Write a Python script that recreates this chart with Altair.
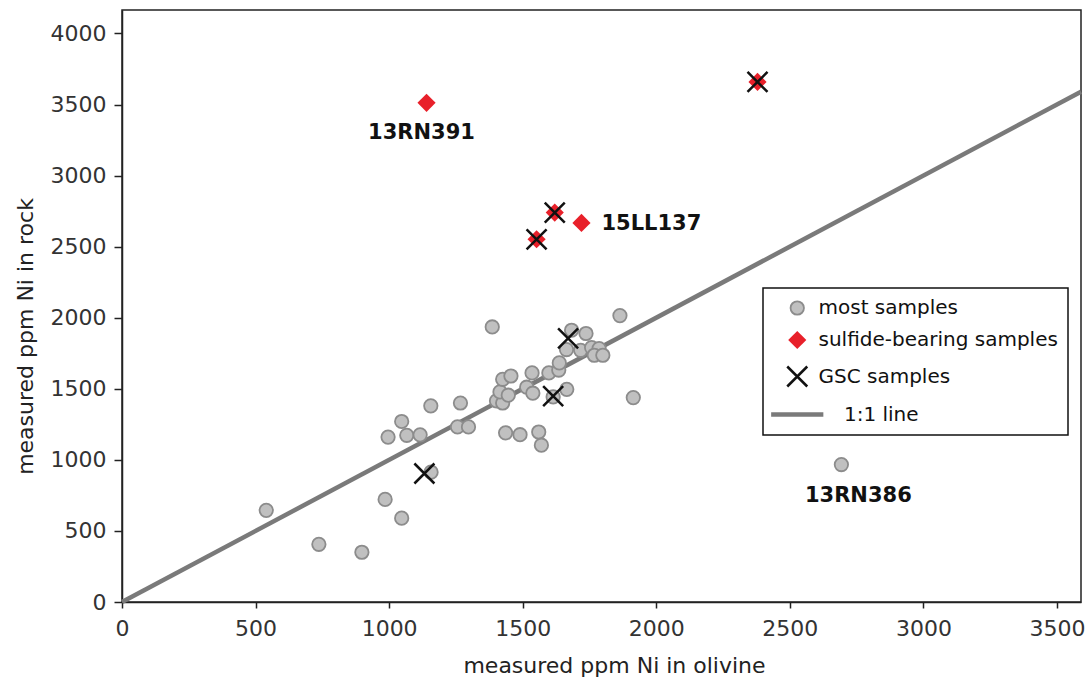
import altair as alt
import pandas as pd

# Ni (ppm) measured in olivine (x) and in the whole rock (y)
most_x = [540, 737, 898, 985, 1047, 996, 1047, 1066, 1116, 1156, 1157, 1256, 1267, 1297,
          1386, 1402, 1425, 1415, 1425, 1456, 1446, 1436, 1490, 1560, 1570, 1535, 1515,
          1538, 1598, 1635, 1637, 1614, 1665, 1683, 1664, 1737, 1717, 1758, 1786, 1768,
          1800, 1864, 1914, 2693]
most_y = [645, 406, 350, 722, 590, 1160, 1270, 1173, 1176, 1380, 913, 1232, 1400, 1232,
          1935, 1415, 1400, 1478, 1567, 1590, 1455, 1190, 1177, 1196, 1103, 1612, 1511,
          1469, 1612, 1632, 1682, 1443, 1496, 1912, 1776, 1889, 1771, 1790, 1783, 1736,
          1736, 2015, 1438, 967]

sulfide_x = [1140, 1552, 1620, 1720, 2379]
sulfide_y = [3512, 2552, 2740, 2667, 3659]

gsc_x = [1132, 1614, 1670, 1552, 1620, 2379]
gsc_y = [904, 1448, 1854, 2552, 2740, 3659]

line_ends = [0, 3590]

# legend names; the 1:1 entry is indented past its longer dash
# (a zero-width space keeps the non-breaking spaces from being trimmed)
INDENT = "\u200b" + "\u00a0" * 4
series = ["most samples", "sulfide-bearing samples", "GSC samples", INDENT + "1:1 line"]

label_text = ["13RN391", "15LL137", "13RN386"]
label_x = [1140, 1720, 2693]
label_y = [3512, 2667, 967]

x_ticks = [0, 500, 1000, 1500, 2000, 2500, 3000, 3500]
y_ticks = [0, 500, 1000, 1500, 2000, 2500, 3000, 3500, 4000]

FONT = "DejaVu Sans"
X_PATH = "M-1,-1L1,1M-1,1L1,-1"
# long flat dash for the 1:1 line legend entry
DASH_PATH = "M-2.9,0L2.9,0"

points = pd.concat([
    pd.DataFrame({"x": most_x, "y": most_y, "series": series[0]}),
    pd.DataFrame({"x": sulfide_x, "y": sulfide_y, "series": series[1]}),
    pd.DataFrame({"x": gsc_x, "y": gsc_y, "series": series[2]}),
], ignore_index=True)
line_df = pd.DataFrame({"x": line_ends, "y": line_ends, "series": series[3]})
labels = pd.DataFrame({"name": label_text, "x": label_x, "y": label_y})

x_enc = alt.X(
    "x:Q",
    scale=alt.Scale(domain=[0, 3590], nice=False),
    axis=alt.Axis(
        values=x_ticks, format="d", grid=False, tickSize=6, tickWidth=1.5, tickColor="#222",
        domainColor="#222", domainWidth=1.5, labelFont=FONT, labelFontSize=22,
        labelColor="#333", labelPadding=10, labelFlush=False, labelOverlap=False,
        title="measured ppm Ni in olivine", titleFont=FONT, titleFontSize=22,
        titleFontWeight="normal", titleColor="#222", titleX=492, titleY=70,
        titleBaseline="alphabetic",
    ),
)
y_enc = alt.Y(
    "y:Q",
    scale=alt.Scale(domain=[0, 4165], nice=False),
    axis=alt.Axis(
        values=y_ticks, format="d", grid=False, tickSize=8, tickWidth=1.5, tickColor="#222",
        domainColor="#222", domainWidth=1.5, labelFont=FONT, labelFontSize=22,
        labelColor="#333", labelPadding=8, labelFlush=False, labelOverlap=False,
        title="measured ppm Ni in rock", titleFont=FONT, titleFontSize=22,
        titleFontWeight="normal", titleColor="#222", titleX=-90, titleY=326,
        titleAngle=270, titleBaseline="alphabetic",
    ),
)

legend = alt.Legend(title=None, orient="none", legendX=641, legendY=278)

shape_enc = alt.Shape("series:N", legend=legend,
                      scale=alt.Scale(domain=series, range=["circle", "diamond", X_PATH, DASH_PATH]))
fill_enc = alt.Fill("series:N", legend=legend,
                    scale=alt.Scale(domain=series, range=["#c0c0c0", "#e8202a", "transparent", "transparent"]))
stroke_enc = alt.Stroke("series:N", legend=legend,
                        scale=alt.Scale(domain=series, range=["#8c8c8c", "#e8202a", "#111111", "#7a7a7a"]))
size_enc = alt.Size("series:N", legend=legend,
                    scale=alt.Scale(type="ordinal", domain=series, range=[180, 330, 400, 324]))
sw_enc = alt.StrokeWidth("series:N", legend=legend,
                         scale=alt.Scale(type="ordinal", domain=series, range=[1.8, 0, 2.5, 4.5]))

one_to_one = alt.Chart(line_df).mark_line().encode(
    x=x_enc, y=y_enc, stroke=stroke_enc, strokeWidth=sw_enc
)

samples = alt.Chart(points).mark_point(opacity=1).encode(
    x=x_enc, y=y_enc, shape=shape_enc, fill=fill_enc, stroke=stroke_enc,
    size=size_enc, strokeWidth=sw_enc
)

# sample names next to the outliers
label_style = [
    {"align": "center", "dx": -5, "dy": 30},
    {"align": "left", "dx": 20, "dy": 1},
    {"align": "center", "dx": 17, "dy": 31},
]
text_layers = []
for name, style in zip(label_text, label_style):
    text_layers.append(
        alt.Chart(labels).transform_filter(alt.datum.name == name).mark_text(
            font=FONT, fontSize=21, fontWeight="bold", color="#111",
            baseline="middle", **style
        ).encode(x=alt.X("x:Q"), y=alt.Y("y:Q"), text="name:N")
    )

chart = alt.layer(one_to_one, samples, *text_layers).properties(
    width=959, height=592,
    autosize=alt.AutoSizeParams(type="none"),
    padding={"left": 122, "top": 10, "right": 11, "bottom": 77},
    background="white",
).configure_view(
    stroke="#222", strokeWidth=1.5
).configure_legend(
    strokeColor="#111", strokeWidth=1.5, fillColor="white", padding=10,
    labelFont=FONT, labelFontSize=20, labelColor="#111", rowPadding=11,
    symbolOffset=12.75, labelOffset=9.75, labelLimit=0, symbolLimit=0,
)

chart.save("out.html", embed_options={"renderer": "svg", "actions": False})
